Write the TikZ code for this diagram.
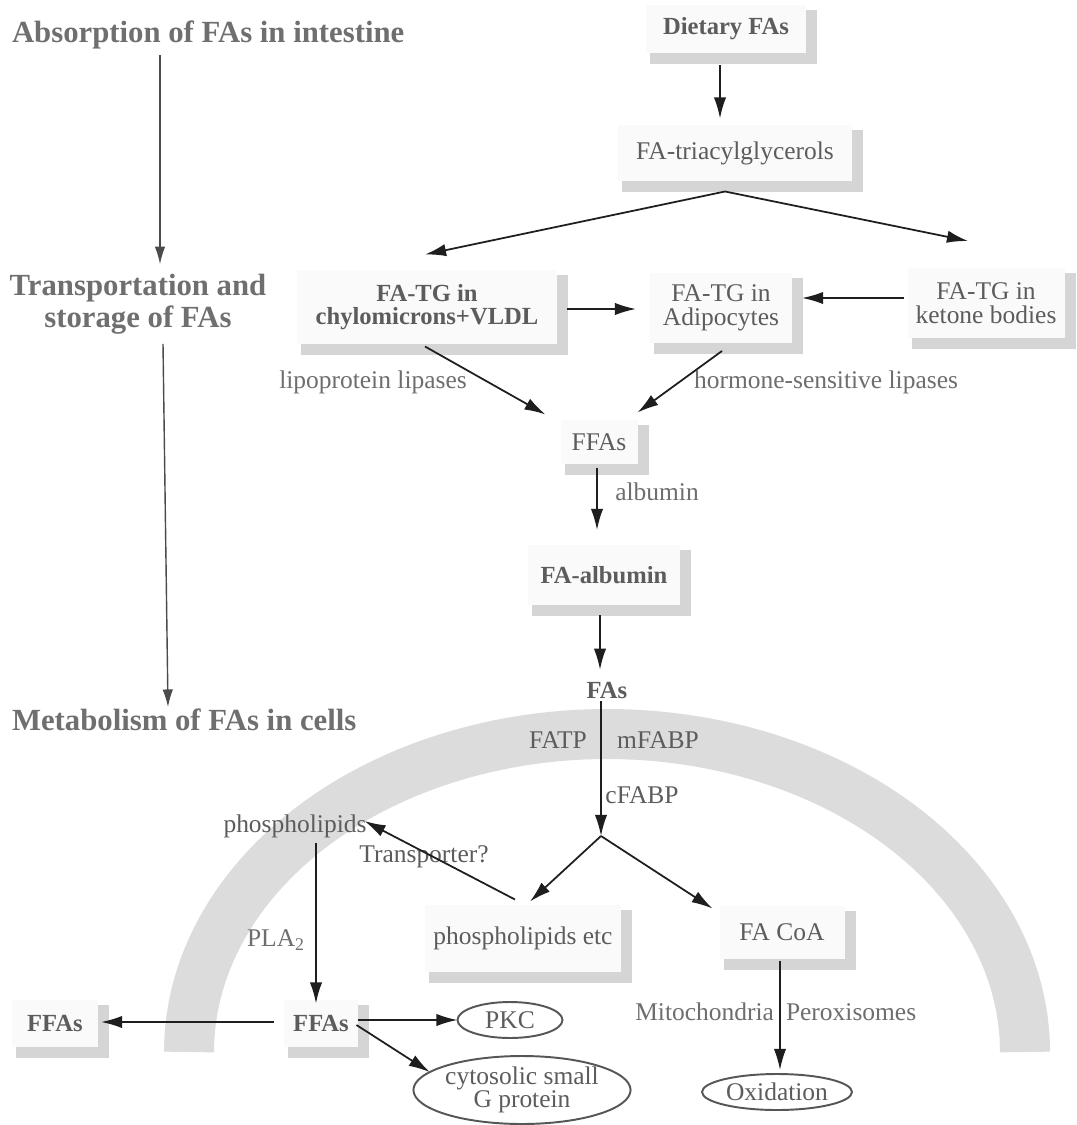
\documentclass[tikz,border=0pt]{standalone}
\usepackage{fontspec}
\setmainfont{Liberation Serif}
\usetikzlibrary{arrows.meta,calc,shapes.geometric}
\definecolor{ink}{HTML}{1E1E1E}
\definecolor{txt}{HTML}{5C5C5C}
\definecolor{lbl}{HTML}{6E6E6E}
\definecolor{head}{HTML}{6F6F6F}
\definecolor{band}{HTML}{DCDCDC}
\definecolor{shadowgray}{HTML}{D5D5D5}
\definecolor{boxfill}{HTML}{FAFAFA}
% L-shaped drop shadow along the right and bottom edge of a box
\newcommand\boxshadow[1]{%
  \fill[shadowgray] ($(#1.south west)+(4,0)$) rectangle ($(#1.south east)+(11,11)$);
  \fill[shadowgray] ($(#1.north east)+(0,5)$) rectangle ($(#1.south east)+(11,0)$);}
\begin{document}
\begin{tikzpicture}[x=0.02cm,y=-0.02cm,
  every node/.style={inner sep=0pt,outer sep=0pt},
  heading/.style={font=\fontsize{17.5}{18}\selectfont\bfseries,text=head,align=center},
  boxnode/.style={fill=boxfill,text=txt,font=\fontsize{14.5}{13.5}\selectfont,align=center},
  boldbox/.style={boxnode,font=\fontsize{14}{13.5}\selectfont\bfseries},
  plain/.style={text=txt,font=\fontsize{14.5}{14}\selectfont},
  lbl/.style={text=lbl,font=\fontsize{14.5}{14}\selectfont},
  bubble/.style={ellipse,draw=ink!75,line width=1.1pt,text=txt,
    font=\fontsize{14.5}{13.5}\selectfont,align=center,inner sep=0pt},
  arr/.style={draw=ink,line width=1pt,-{Latex[length=12pt,width=7pt]}},
  guide/.style={draw=ink!80,line width=0.8pt,-{Latex[length=10pt,width=6pt]}}]

\useasboundingbox (0,0) rectangle (1077,1125);
\fill[white] (0,0) rectangle (1077,1125);

% cell membrane
\draw[band,line width=1cm] plot[domain=180:360,samples=120,smooth]
  ({607+418*cos(\x)},{1052+318*sin(\x)});

% stage headings
\node[heading,anchor=west] (h1) at (12,35) {Absorption of FAs in intestine};
\node[heading] (h2) at (138,304) {Transportation and\\storage of FAs};
\node[heading,anchor=west] (h3) at (12,720) {Metabolism of FAs in cells};

% boxes
\node[boldbox,minimum width=3.2cm,minimum height=0.96cm] (diet) at (726,29) {Dietary FAs};
\node[boxnode,minimum width=4.7cm,minimum height=1.14cm] (tag) at (735,153) {FA-triacylglycerols};
\node[boldbox,minimum width=5.2cm,minimum height=1.5cm] (chylo) at (427,307) {FA-TG in\\chylomicrons+VLDL};
\node[boxnode,minimum width=2.84cm,minimum height=1.4cm] (adipo) at (721,308) {FA-TG in\\Adipocytes};
\node[boxnode,minimum width=3.14cm,minimum height=1.4cm] (keto) at (986,303) {FA-TG in\\ketone bodies};
\node[boxnode,minimum width=1.54cm,minimum height=0.9cm] (ffa1) at (599,442) {FFAs};
\node[boldbox,minimum width=3.04cm,minimum height=1.2cm] (alb) at (604,575) {FA-albumin};
\node[plain,font=\fontsize{14}{14}\selectfont\bfseries] (fas) at (607,690) {FAs};
\node[plain] (phos) at (295,826) {phospholipids};
\node[boxnode,minimum width=3.94cm,minimum height=1.34cm] (petc) at (523,938) {phospholipids etc};
\node[boxnode,minimum width=2.5cm,minimum height=1.06cm] (facoa) at (782,932) {FA CoA};
\node[boldbox,minimum width=1.5cm,minimum height=0.94cm] (ffa2) at (321,1023) {FFAs};
\node[boldbox,minimum width=1.72cm,minimum height=0.94cm] (ffa3) at (55,1023) {FFAs};

% end products
\node[bubble,minimum width=2.1cm,minimum height=0.72cm] (pkc) at (510,1020) {PKC};
\node[bubble,minimum width=3.36cm,minimum height=1.36cm] (gprot) at (522,1090) {cytosolic small\\G protein};
\node[bubble,minimum width=3cm,minimum height=0.72cm] (oxid) at (777,1092) {Oxidation};

% shadows
\foreach \b in {diet,tag,chylo,adipo,keto,ffa1,alb,petc,facoa,ffa2,ffa3} {\boxshadow{\b}}

% enzyme and carrier labels
\node[lbl] (lpl) at (373,382) {lipoprotein lipases};
\node[lbl] (hsl) at (826,382) {hormone-sensitive lipases};
\node[lbl] (albl) at (657,492) {albumin};
\node[plain] (fatp) at (558,740) {FATP};
\node[plain] (mfabp) at (658,740) {mFABP};
\node[plain] (cfabp) at (642,795) {cFABP};
\node[plain] (trans) at (424,857) {Transporter?};
\node[lbl] (pla) at (276,940) {PLA\textsubscript{2}};
\node[lbl,anchor=east] (mito) at (774,1012) {Mitochondria};
\node[lbl,anchor=west] (perox) at (786,1012) {Peroxisomes};

% stage arrows
\coordinate (gx1) at (160,0);
\coordinate (gx2) at (163,0);
\coordinate (gx3) at (168,0);
\path (h1.south -| gx1) coordinate (ga);
\path (h2.north -| gx1) coordinate (gb);
\path (h2.south -| gx2) coordinate (gc);
\path (h3.north -| gx3) coordinate (gd);
\draw[guide] ($(ga)+(0,6)$) -- ($(gb)+(0,-10)$);
\draw[guide] ($(gc)+(0,10)$) -- ($(gd)+(0,-2)$);

% pathway arrows
\coordinate (split) at (601,836);
\draw[arr] ($(diet.south)+(-6,12)$) -- ($(tag.north)+(-15,-6)$);
\draw[arr] ($(tag.south)+(-10,10)$) -- ($(chylo.north)+(-2,-15)$);
\draw[arr] ($(tag.south)+(-10,10)$) -- ($(keto.north)+(-18,-27)$);
\draw[arr] ($(chylo.east)+(10,2)$) -- ($(adipo.west)+(-14,1)$);
\draw[arr] ($(keto.west)+(-4,-5)$) -- ($(adipo.east)+(10,-10)$);
\draw[arr] ($(chylo.south)+(-2,2)$) -- ($(ffa1.north west)+(-15,-5)$);
\draw[arr] ($(adipo.south)+(1,8)$) -- ($(ffa1.north east)+(0,-7)$);
\draw[arr] ($(ffa1.south)+(-2,4)$) -- ($(alb.north)+(-7,-15)$);
\draw[arr] ($(alb.south)+(-4,10)$) -- ($(fas.north)+(-7,-12)$);
\draw[arr] ($(fas.south)+(-6,3)$) -- (split);
\draw[arr] (split) -- ($(petc.north)+(7,-3)$);
\draw[arr] (split) -- ($(facoa.north west)+(-7,3)$);
\draw[arr] ($(petc.north)+(-8,-5)$) -- ($(phos.east)+(-2,-5)$);
\draw[arr] ($(phos.south)+(21,5)$) -- ($(ffa2.north)+(-5,4)$);
\draw[arr] ($(ffa2.west)+(-10,-1)$) -- ($(ffa3.east)+(3,-1)$);
\draw[arr] ($(ffa2.east)+(0,-3)$) -- (pkc.west);
\draw[arr] ($(ffa2.east)+(-2,2)$) -- (gprot.169);
\draw[arr] ($(facoa.south)+(-2,2)$) -- ($(oxid.north)+(3,-4)$);
\end{tikzpicture}
\end{document}
